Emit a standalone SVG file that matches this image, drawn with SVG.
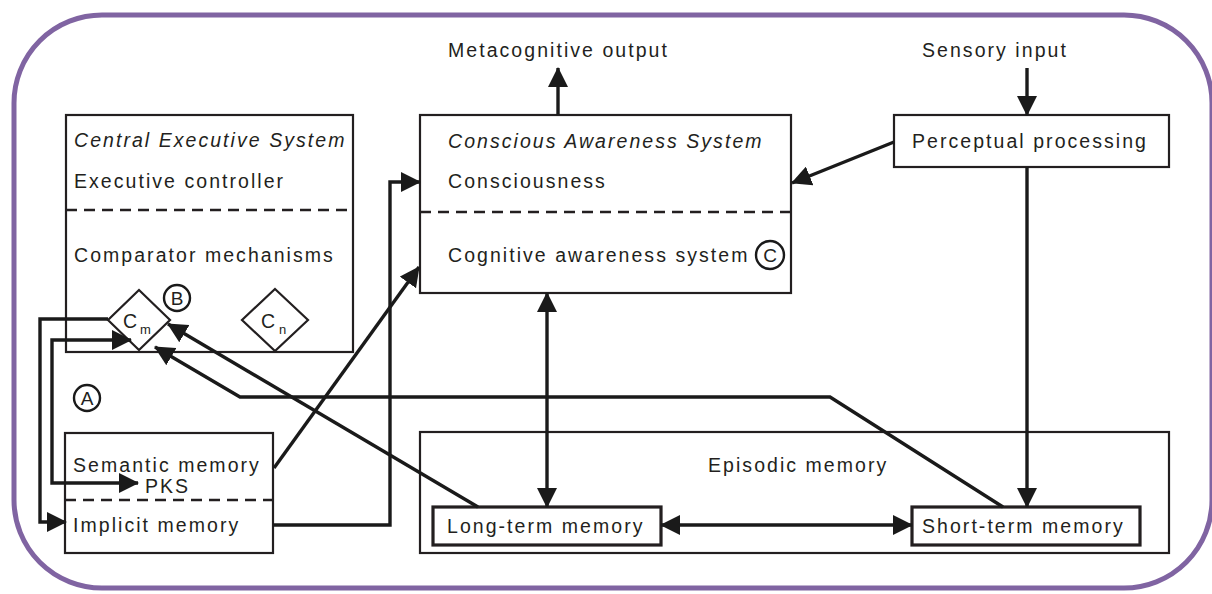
<svg xmlns="http://www.w3.org/2000/svg" width="1212" height="594" viewBox="0 0 1212 594">
<defs>
<style>
.t{font-family:"Liberation Sans",Arial,sans-serif;font-size:19.5px;letter-spacing:2.05px;fill:#231f20}
.i{font-style:italic}
.box{fill:#fff;stroke:#231f20;stroke-width:2.2}
.thick{fill:#fff;stroke:#231f20;stroke-width:3.2}
.dash{stroke:#231f20;stroke-width:2.6;stroke-dasharray:11 7;fill:none}
.c{fill:none;stroke:#1a1a1a;stroke-width:3.4;stroke-linejoin:miter}
.circ{fill:#fff;stroke:#1a1a1a;stroke-width:2.4}
.ct{font-family:"Liberation Sans",Arial,sans-serif;font-size:19px;fill:#231f20;text-anchor:middle}
</style>
<marker id="ah" viewBox="0 0 20 20" markerWidth="20" markerHeight="20" refX="19" refY="10" orient="auto-start-reverse" markerUnits="userSpaceOnUse">
<path d="M0,0 L20,10 L0,20 z" fill="#1a1a1a"/>
</marker>
</defs>
<rect width="1212" height="594" fill="#fff"/>
<rect x="14" y="15" width="1198" height="573" rx="88" ry="88" fill="none" stroke="#8064a2" stroke-width="5"/>

<g id="ces">
<rect class="box" x="66" y="115" width="287" height="237"/>
<line class="dash" x1="66" y1="210" x2="353" y2="210"/>
<text class="t i" x="74" y="147">Central Executive System</text>
<text class="t" x="74" y="188">Executive controller</text>
<text class="t" x="74" y="262">Comparator mechanisms</text>
</g>
<g id="cm">
<polygon class="box" points="139,290 170,320 139,350 108,320"/>
<text class="t" x="123" y="328" style="letter-spacing:0">C</text>
<text class="t" x="140" y="334" style="font-size:13px;letter-spacing:0">m</text>
</g>
<g id="cn">
<polygon class="box" points="275,289 308,320 275,351 242,320"/>
<text class="t" x="261" y="328" style="letter-spacing:0">C</text>
<text class="t" x="279" y="334" style="font-size:13px;letter-spacing:0">n</text>
</g>
<g id="cas">
<rect class="box" x="420" y="115" width="371" height="178"/>
<line class="dash" x1="420" y1="212" x2="791" y2="212"/>
<text class="t i" x="448" y="148">Conscious Awareness System</text>
<text class="t" x="448" y="188">Consciousness</text>
<text class="t" x="448" y="262">Cognitive awareness system</text>
</g>
<g id="perceptual">
<rect class="box" x="894" y="115" width="275" height="52"/>
<text class="t" x="912" y="148">Perceptual processing</text>
</g>
<g id="semantic">
<rect class="box" x="65" y="433" width="208" height="120"/>
<line class="dash" x1="65" y1="500" x2="273" y2="500"/>
<text class="t" x="73" y="472">Semantic memory</text>
<text class="t" x="145" y="493">PKS</text>
<text class="t" x="73" y="532">Implicit memory</text>
</g>
<g id="episodic">
<rect class="box" x="420" y="432" width="749" height="121"/>
<text class="t" x="708" y="472">Episodic memory</text>
</g>
<g id="ltm">
<rect class="thick" x="433" y="507" width="228" height="38"/>
<text class="t" x="447" y="533">Long-term memory</text>
</g>
<g id="stm">
<rect class="thick" x="912" y="507" width="228" height="38"/>
<text class="t" x="922" y="533">Short-term memory</text>
</g>
<g id="labels">
<text class="t" x="448" y="57">Metacognitive output</text>
<text class="t" x="922" y="57">Sensory input</text>
</g>

<g id="connectors">
<line class="c" x1="558" y1="115" x2="558" y2="68" marker-end="url(#ah)"/>
<line class="c" x1="1027" y1="68" x2="1027" y2="115" marker-end="url(#ah)"/>
<line class="c" x1="894" y1="142" x2="792" y2="183" marker-end="url(#ah)"/>
<line class="c" x1="1027" y1="167" x2="1027" y2="507" marker-end="url(#ah)"/>
<line class="c" x1="547" y1="293" x2="547" y2="507" marker-start="url(#ah)" marker-end="url(#ah)"/>
<line class="c" x1="661" y1="525" x2="912" y2="525" marker-start="url(#ah)" marker-end="url(#ah)"/>
<line class="c" x1="478" y1="507" x2="168" y2="324" marker-end="url(#ah)"/>
<polyline class="c" points="1003,507 830,397 240,397 155,347" marker-end="url(#ah)"/>
<polyline class="c" points="273,525 390,525 390,182 420,182" marker-end="url(#ah)"/>
<line class="c" x1="274" y1="468" x2="419" y2="267" marker-end="url(#ah)"/>
<polyline class="c" points="131,340 52,340 52,483 138,483" marker-start="url(#ah)" marker-end="url(#ah)"/>
<polyline class="c" points="108,319 40,319 40,522 66,522" marker-end="url(#ah)"/>
</g>

<g id="markers">
<circle class="circ" cx="177" cy="298" r="13"/>
<text class="ct" x="177" y="305">B</text>
<circle class="circ" cx="87" cy="398" r="13"/>
<text class="ct" x="87" y="405">A</text>
<circle class="circ" cx="770" cy="255" r="14"/>
<text class="ct" x="770" y="262">C</text>
</g>
</svg>
